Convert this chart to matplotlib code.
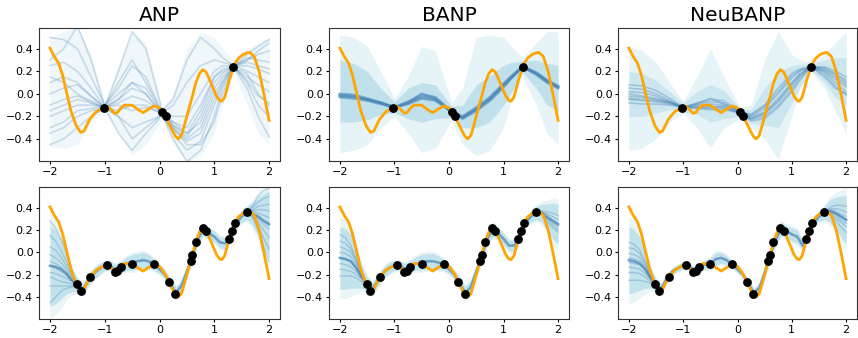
import numpy as np
import matplotlib
matplotlib.use("Agg")
import matplotlib.pyplot as plt

titles = ["ANP", "BANP", "NeuBANP"]

# ---- ground-truth function (orange) ----
true_x = [-2.0, -1.92, -1.84, -1.77, -1.69, -1.62, -1.52, -1.44, -1.38, -1.27, -1.16, -1.02,
          -0.95, -0.88, -0.82, -0.77, -0.71, -0.64, -0.50, -0.40, -0.30, -0.18, -0.10, 0.0,
          0.05, 0.11, 0.17, 0.24, 0.29, 0.34, 0.40, 0.46, 0.52, 0.57, 0.60, 0.66, 0.73, 0.79,
          0.85, 0.91, 0.97, 1.04, 1.10, 1.14, 1.19, 1.23, 1.27, 1.32, 1.37, 1.45, 1.53, 1.60,
          1.65, 1.73, 1.82, 1.91, 2.0]
true_y = [0.405, 0.33, 0.27, 0.167, 0.0, -0.146, -0.283, -0.342, -0.33, -0.223, -0.16, -0.12,
          -0.113, -0.14, -0.173, -0.167, -0.128, -0.10, -0.101, -0.137, -0.167, -0.13, -0.107, -0.125,
          -0.158, -0.20, -0.262, -0.33, -0.375, -0.40, -0.37, -0.27, -0.16, -0.074, -0.024, 0.092, 0.18, 0.214,
          0.193, 0.13, 0.062, -0.02, -0.06, -0.065, -0.03, 0.04, 0.116, 0.188, 0.265, 0.32, 0.35, 0.363,
          0.366, 0.33, 0.196, -0.012, -0.235]

# ---- context points ----
ctx_top_x = [-1.02, 0.05, 0.11, 1.35]
ctx_top_y = [-0.122, -0.158, -0.200, 0.236]
ctx_bot_x = [-1.51, -1.44, -1.27, -0.95, -0.82, -0.77, -0.71, -0.50, -0.10, 0.17,
             0.29, 0.57, 0.60, 0.66, 0.79, 0.85, 1.27, 1.32, 1.37, 1.60]
ctx_bot_y = [-0.283, -0.342, -0.223, -0.113, -0.173, -0.167, -0.128, -0.101, -0.107, -0.262,
             -0.375, -0.074, -0.024, 0.092, 0.214, 0.193, 0.116, 0.188, 0.265, 0.363]

# ---- top row (few context points) ----
top_x = [-2.0, -1.75, -1.5, -1.25, -1.0, -0.75, -0.5, -0.25, 0.05, 0.25, 0.5, 0.75, 1.0, 1.15, 1.35, 1.6, 1.8, 2.0]

anp_top_samples = [
    [0.50, 0.48, 0.40, 0.15, -0.10, 0.05, 0.25, 0.15, -0.17, -0.25, -0.30, -0.10, 0.15, 0.20, 0.24, 0.30, 0.35, 0.38],
    [0.25, 0.28, 0.20, 0.05, -0.12, -0.05, 0.05, 0.00, -0.18, -0.30, -0.40, -0.30, 0.00, 0.12, 0.24, 0.25, 0.22, 0.18],
    [-0.10, -0.05, -0.02, -0.06, -0.12, -0.08, -0.02, -0.06, -0.16, -0.28, -0.35, -0.25, 0.05, 0.15, 0.23, 0.15, 0.08, 0.02],
    [-0.45, -0.40, -0.30, -0.20, -0.13, -0.20, -0.30, -0.25, -0.19, -0.35, -0.50, -0.42, -0.10, 0.08, 0.24, 0.10, -0.10, -0.20],
    [-0.30, -0.25, -0.15, -0.13, -0.11, 0.10, 0.30, 0.10, -0.17, -0.10, 0.10, 0.25, 0.30, 0.28, 0.25, 0.30, 0.38, 0.45],
    [0.10, 0.15, 0.10, -0.02, -0.12, -0.20, -0.40, -0.30, -0.18, -0.30, -0.45, -0.45, -0.25, 0.00, 0.24, 0.05, -0.20, -0.38],
    [-0.15, -0.10, -0.05, -0.08, -0.12, 0.20, 0.55, 0.40, -0.15, -0.05, 0.30, 0.50, 0.40, 0.32, 0.25, 0.20, 0.15, 0.10],
    [0.00, 0.05, 0.08, -0.02, -0.12, -0.15, -0.10, -0.10, -0.18, -0.25, -0.35, -0.15, 0.15, 0.22, 0.24, 0.32, 0.30, 0.28],
    [-0.20, -0.15, -0.10, -0.10, -0.12, -0.35, -0.50, -0.35, -0.19, -0.40, -0.60, -0.50, -0.20, 0.05, 0.23, 0.18, 0.00, -0.10],
    [0.30, 0.40, 0.60, 0.30, -0.11, 0.00, 0.10, 0.05, -0.17, -0.20, -0.20, 0.00, 0.20, 0.25, 0.24, 0.28, 0.25, 0.22],
    [-0.35, -0.30, -0.20, -0.15, -0.12, -0.05, 0.10, 0.00, -0.18, -0.32, -0.42, -0.35, -0.05, 0.10, 0.24, 0.35, 0.42, 0.48],
    [0.15, 0.10, 0.00, -0.08, -0.12, -0.10, -0.15, -0.12, -0.17, -0.28, -0.38, -0.20, 0.10, 0.18, 0.24, 0.12, -0.02, -0.08],
]
anp_top_hi = [0.50, 0.55, 0.60, 0.35, -0.08, 0.25, 0.55, 0.45, -0.12, 0.00, 0.40, 0.55, 0.50, 0.40, 0.30, 0.40, 0.45, 0.50]
anp_top_lo = [-0.47, -0.48, -0.45, -0.25, -0.15, -0.35, -0.55, -0.45, -0.22, -0.45, -0.60, -0.55, -0.35, -0.10, 0.18, -0.10, -0.35, -0.45]

banp_top_samples = [
    [-0.02, -0.03, -0.05, -0.08, -0.12, -0.08, -0.03, -0.05, -0.16, -0.21, -0.13, -0.04, 0.08, 0.15, 0.24, 0.18, 0.11, 0.06],
    [0.00, -0.01, -0.04, -0.08, -0.12, -0.07, -0.01, -0.03, -0.16, -0.20, -0.12, -0.03, 0.09, 0.16, 0.24, 0.19, 0.12, 0.07],
    [-0.03, -0.04, -0.06, -0.09, -0.12, -0.09, -0.04, -0.06, -0.16, -0.22, -0.15, -0.06, 0.06, 0.14, 0.24, 0.17, 0.10, 0.05],
    [-0.01, -0.02, -0.05, -0.08, -0.12, -0.08, 0.00, -0.04, -0.16, -0.21, -0.14, -0.05, 0.07, 0.15, 0.24, 0.18, 0.11, 0.06],
]
banp_top_hi = [0.52, 0.50, 0.42, 0.20, -0.04, 0.15, 0.42, 0.38, -0.08, 0.05, 0.50, 0.52, 0.50, 0.42, 0.32, 0.45, 0.55, 0.55]
banp_top_lo = [-0.52, -0.50, -0.45, -0.30, -0.20, -0.35, -0.52, -0.48, -0.24, -0.45, -0.55, -0.50, -0.30, -0.05, 0.15, -0.10, -0.35, -0.45]
banp_top_in_hi = [0.30, 0.27, 0.20, 0.05, -0.07, 0.05, 0.10, 0.08, -0.11, -0.10, 0.08, 0.16, 0.25, 0.28, 0.29, 0.30, 0.27, 0.25]
banp_top_in_lo = [-0.25, -0.25, -0.23, -0.18, -0.17, -0.22, -0.25, -0.22, -0.21, -0.30, -0.30, -0.25, -0.10, 0.02, 0.19, 0.05, -0.10, -0.15]

neu_top_samples = [
    [0.08, 0.07, 0.03, -0.04, -0.12, -0.08, -0.05, -0.06, -0.16, -0.18, -0.10, 0.05, 0.18, 0.22, 0.24, 0.24, 0.20, 0.15],
    [0.05, 0.04, 0.00, -0.06, -0.12, -0.09, -0.07, -0.08, -0.16, -0.20, -0.13, 0.00, 0.14, 0.20, 0.24, 0.22, 0.17, 0.10],
    [0.02, 0.01, -0.02, -0.07, -0.12, -0.10, -0.09, -0.10, -0.16, -0.21, -0.16, -0.04, 0.10, 0.18, 0.24, 0.20, 0.13, 0.06],
    [-0.02, -0.03, -0.05, -0.08, -0.12, -0.11, -0.11, -0.12, -0.17, -0.22, -0.18, -0.07, 0.07, 0.16, 0.24, 0.19, 0.10, 0.02],
    [-0.05, -0.06, -0.07, -0.09, -0.12, -0.12, -0.13, -0.13, -0.17, -0.23, -0.20, -0.10, 0.04, 0.14, 0.24, 0.17, 0.07, -0.01],
    [-0.08, -0.09, -0.09, -0.10, -0.12, -0.13, -0.14, -0.14, -0.17, -0.24, -0.22, -0.12, 0.02, 0.12, 0.24, 0.15, 0.05, 0.00],
    [0.00, -0.02, -0.04, -0.07, -0.12, -0.09, -0.04, -0.09, -0.16, -0.19, -0.11, 0.02, 0.16, 0.21, 0.24, 0.23, 0.18, 0.12],
    [-0.04, -0.05, -0.06, -0.08, -0.12, -0.12, -0.12, -0.11, -0.17, -0.22, -0.17, -0.06, 0.09, 0.17, 0.24, 0.21, 0.15, 0.08],
]
neu_top_hi = [0.42, 0.38, 0.28, 0.10, -0.07, 0.15, 0.40, 0.15, -0.12, -0.10, 0.30, 0.55, 0.35, 0.30, 0.28, 0.35, 0.45, 0.55]
neu_top_lo = [-0.50, -0.48, -0.40, -0.25, -0.17, -0.30, -0.48, -0.30, -0.22, -0.30, -0.40, -0.58, -0.20, 0.05, 0.20, 0.05, -0.15, -0.35]
neu_top_in_hi = [0.20, 0.18, 0.12, 0.02, -0.08, 0.02, 0.08, 0.03, -0.13, -0.14, 0.05, 0.20, 0.25, 0.26, 0.27, 0.30, 0.32, 0.32]
neu_top_in_lo = [-0.20, -0.20, -0.17, -0.14, -0.16, -0.18, -0.25, -0.22, -0.20, -0.26, -0.28, -0.30, -0.08, 0.06, 0.21, 0.10, -0.03, -0.10]

# ---- bottom row (many context points) ----
bot_x = np.linspace(-2.0, 2.0, 41)
left_x = [-2.0, -1.9, -1.8, -1.7, -1.6, -1.5]
right_x = [1.6, 1.7, 1.8, 1.9, 2.0]

anp_bot_mean = [-0.12, -0.13, -0.15, -0.19, -0.25, -0.29, -0.33, -0.25, -0.19, -0.15,
                -0.12, -0.12, -0.16, -0.13, -0.10, -0.09, -0.08, -0.07, -0.08, -0.11,
                -0.15, -0.20, -0.28, -0.36, -0.30, -0.17, -0.03, 0.12, 0.20, 0.17,
                0.14, 0.09, 0.08, 0.15, 0.26, 0.32, 0.35, 0.34, 0.32, 0.28, 0.25]
anp_bot_half = [0.36, 0.33, 0.27, 0.18, 0.10, 0.06, 0.05, 0.05, 0.05, 0.05,
                0.04, 0.04, 0.05, 0.05, 0.06, 0.07, 0.07, 0.07, 0.06, 0.05,
                0.04, 0.04, 0.04, 0.05, 0.05, 0.05, 0.05, 0.05, 0.05, 0.05,
                0.05, 0.05, 0.05, 0.05, 0.04, 0.05, 0.06, 0.10, 0.17, 0.24, 0.30]
anp_bot_left = [
    [0.28, 0.22, 0.12, 0.00, -0.15, -0.29],
    [0.15, 0.10, 0.02, -0.08, -0.19, -0.29],
    [0.05, 0.02, -0.04, -0.12, -0.21, -0.29],
    [-0.02, -0.05, -0.09, -0.15, -0.22, -0.29],
    [-0.08, -0.10, -0.13, -0.18, -0.24, -0.29],
    [-0.12, -0.14, -0.17, -0.20, -0.25, -0.29],
    [-0.18, -0.19, -0.21, -0.23, -0.26, -0.29],
    [-0.22, -0.24, -0.26, -0.27, -0.28, -0.29],
    [-0.30, -0.30, -0.30, -0.30, -0.30, -0.29],
    [-0.45, -0.40, -0.35, -0.32, -0.31, -0.29],
]
anp_bot_right = [
    [0.35, 0.42, 0.50, 0.55, 0.57],
    [0.35, 0.40, 0.45, 0.48, 0.50],
    [0.35, 0.38, 0.41, 0.42, 0.43],
    [0.35, 0.37, 0.38, 0.38, 0.37],
    [0.35, 0.36, 0.35, 0.33, 0.31],
    [0.35, 0.35, 0.32, 0.29, 0.26],
    [0.35, 0.34, 0.30, 0.25, 0.21],
    [0.35, 0.33, 0.27, 0.20, 0.13],
    [0.35, 0.32, 0.23, 0.13, 0.03],
    [0.35, 0.31, 0.20, 0.05, -0.08],
]

banp_bot_mean = [-0.05, -0.06, -0.08, -0.14, -0.22, -0.28, -0.32, -0.25, -0.18, -0.14,
                 -0.12, -0.12, -0.15, -0.12, -0.10, -0.09, -0.08, -0.08, -0.09, -0.11,
                 -0.15, -0.20, -0.28, -0.36, -0.31, -0.17, -0.03, 0.12, 0.20, 0.17,
                 0.12, 0.06, 0.06, 0.15, 0.26, 0.32, 0.35, 0.35, 0.31, 0.28, 0.25]
banp_bot_half = [0.28, 0.27, 0.24, 0.18, 0.10, 0.06, 0.05, 0.05, 0.05, 0.05,
                 0.04, 0.04, 0.05, 0.05, 0.06, 0.07, 0.07, 0.07, 0.06, 0.05,
                 0.04, 0.04, 0.05, 0.06, 0.06, 0.05, 0.05, 0.06, 0.06, 0.05,
                 0.05, 0.05, 0.05, 0.05, 0.04, 0.05, 0.06, 0.08, 0.12, 0.16, 0.18]
banp_bot_left = [
    [0.16, 0.13, 0.06, -0.06, -0.18, -0.28],
    [0.10, 0.08, 0.03, -0.07, -0.19, -0.28],
    [0.05, 0.03, 0.00, -0.09, -0.20, -0.28],
    [0.00, -0.01, -0.04, -0.11, -0.21, -0.28],
    [-0.05, -0.06, -0.08, -0.14, -0.22, -0.28],
    [-0.10, -0.11, -0.13, -0.17, -0.23, -0.28],
    [-0.15, -0.16, -0.17, -0.20, -0.24, -0.28],
    [-0.21, -0.21, -0.21, -0.23, -0.26, -0.28],
]
banp_bot_right = [
    [0.35, 0.37, 0.36, 0.35, 0.33],
    [0.35, 0.36, 0.34, 0.32, 0.29],
    [0.35, 0.36, 0.33, 0.29, 0.26],
    [0.35, 0.35, 0.31, 0.26, 0.23],
    [0.35, 0.34, 0.29, 0.24, 0.20],
    [0.35, 0.33, 0.27, 0.22, 0.18],
]

neu_bot_mean = [-0.07, -0.08, -0.10, -0.15, -0.23, -0.29, -0.32, -0.23, -0.17, -0.14,
                -0.12, -0.12, -0.16, -0.13, -0.11, -0.10, -0.06, -0.05, -0.07, -0.11,
                -0.15, -0.20, -0.28, -0.36, -0.32, -0.18, -0.03, 0.11, 0.21, 0.19,
                0.16, 0.14, 0.06, 0.16, 0.26, 0.32, 0.35, 0.37, 0.35, 0.32, 0.29]
neu_bot_half = [0.30, 0.28, 0.24, 0.17, 0.09, 0.05, 0.04, 0.03, 0.03, 0.03,
                0.03, 0.03, 0.03, 0.03, 0.04, 0.05, 0.06, 0.05, 0.04, 0.03,
                0.03, 0.03, 0.03, 0.04, 0.04, 0.05, 0.04, 0.05, 0.06, 0.05,
                0.06, 0.06, 0.04, 0.03, 0.03, 0.04, 0.06, 0.10, 0.14, 0.18, 0.22]
neu_bot_left = [
    [0.09, 0.07, 0.02, -0.08, -0.19, -0.29],
    [0.04, 0.03, -0.01, -0.10, -0.20, -0.29],
    [-0.01, -0.02, -0.05, -0.12, -0.21, -0.29],
    [-0.05, -0.06, -0.08, -0.14, -0.22, -0.29],
    [-0.09, -0.10, -0.11, -0.16, -0.23, -0.29],
    [-0.13, -0.14, -0.15, -0.19, -0.24, -0.29],
    [-0.18, -0.18, -0.19, -0.22, -0.26, -0.29],
    [-0.25, -0.25, -0.25, -0.26, -0.27, -0.29],
]
neu_bot_right = [
    [0.35, 0.40, 0.42, 0.42, 0.41],
    [0.35, 0.39, 0.39, 0.38, 0.36],
    [0.35, 0.38, 0.37, 0.34, 0.32],
    [0.35, 0.37, 0.35, 0.32, 0.29],
    [0.35, 0.36, 0.33, 0.29, 0.26],
    [0.35, 0.35, 0.31, 0.27, 0.23],
    [0.35, 0.34, 0.29, 0.23, 0.18],
]

# ---- figure ----
W, H = 858, 338
fig = plt.figure(figsize=(W / 100, H / 100), dpi=100)
cols_px = [(39, 280), (329, 569), (618, 857)]
rows_px = [(28, 161), (187, 319)]

BAND = "lightblue"
LINE = "steelblue"


def make_ax(r, c):
    (l, rr), (t, b) = cols_px[c], rows_px[r]
    ax = fig.add_axes([l / W, 1 - b / H, (rr - l) / W, (b - t) / H])
    ax.set_xlim(-2.2, 2.2)
    ax.set_ylim(-0.595, 0.583)
    ax.set_xticks([-2, -1, 0, 1, 2])
    ax.set_yticks([-0.4, -0.2, 0.0, 0.2, 0.4])
    ax.tick_params(labelsize=8, length=2.5, pad=1.5, width=0.8)
    for s in ax.spines.values():
        s.set_linewidth(0.8)
        s.set_color("#333333")
    return ax


def finish(ax, cx, cy):
    ax.plot(true_x, true_y, color="orange", lw=2, zorder=5)
    ax.plot(cx, cy, "o", color="black", ms=5.3, zorder=6)


# top row
top_data = [
    (anp_top_samples, anp_top_lo, anp_top_hi, None, None, 0.18, 0.25),
    (banp_top_samples, banp_top_lo, banp_top_hi, banp_top_in_lo, banp_top_in_hi, 0.3, 0.5),
    (neu_top_samples, neu_top_lo, neu_top_hi, neu_top_in_lo, neu_top_in_hi, 0.3, 0.35),
]
for c, (samples, lo, hi, ilo, ihi, a_out, a_line) in enumerate(top_data):
    ax = make_ax(0, c)
    ax.set_title(titles[c], fontsize=14.5, pad=5)
    ax.fill_between(top_x, lo, hi, color=BAND, alpha=a_out, lw=0)
    if ilo is not None:
        ax.fill_between(top_x, ilo, ihi, color=BAND, alpha=0.65 if c == 1 else 0.45, lw=0)
    for s in samples:
        ax.plot(top_x, s, color=LINE, alpha=a_line, lw=1.2 if c != 1 else 2.0)
    finish(ax, ctx_top_x, ctx_top_y)

# bottom row
bot_data = [
    (anp_bot_mean, anp_bot_half, anp_bot_left, anp_bot_right),
    (banp_bot_mean, banp_bot_half, banp_bot_left, banp_bot_right),
    (neu_bot_mean, neu_bot_half, neu_bot_left, neu_bot_right),
]
for c, (mean, half, left, right) in enumerate(bot_data):
    ax = make_ax(1, c)
    m = np.array(mean)
    h = np.array(half)
    ax.fill_between(bot_x, m - 1.3 * h, m + 1.3 * h, color=BAND, alpha=0.25, lw=0)
    ax.fill_between(bot_x, m - h, m + h, color=BAND, alpha=0.65, lw=0)
    ax.plot(bot_x, m, color=LINE, alpha=0.7, lw=1.8)
    for s in left:
        ax.plot(left_x, s, color=LINE, alpha=0.3, lw=1.0)
    for s in right:
        ax.plot(right_x, s, color=LINE, alpha=0.3, lw=1.0)
    finish(ax, ctx_bot_x, ctx_bot_y)

fig.savefig("out.png", dpi=100)
